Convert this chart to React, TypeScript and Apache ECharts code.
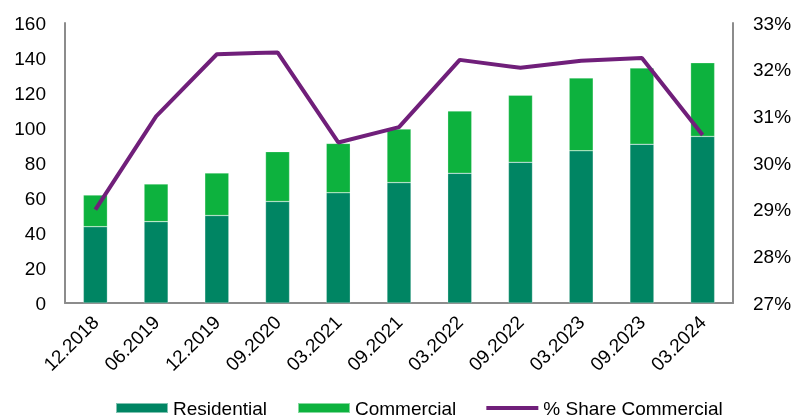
import React, { useEffect, useRef } from "react";
import * as echarts from "echarts";

const categories = ["12.2018", "06.2019", "12.2019", "09.2020", "03.2021", "09.2021", "03.2022", "09.2022", "03.2023", "09.2023", "03.2024"];
const residential = [43.6, 46.5, 50, 58, 63, 68.8, 74.1, 80.4, 87, 90.7, 95.2];
const commercial = [18.1, 21.5, 24.3, 28.5, 28.2, 30.6, 35.6, 38.3, 41.6, 43.6, 42.1];
const shareCommercial = [29.0, 31.0, 32.33, 32.37, 30.44, 30.77, 32.21, 32.04, 32.19, 32.25, 30.6];

const FONT = "'Liberation Sans', Arial, sans-serif";

export default function App() {
  const ref = useRef<HTMLDivElement>(null);
  useEffect(() => {
    if (!ref.current) return;
    const chart = echarts.init(ref.current, null, { renderer: "svg" });
    const axisLine = { show: true, lineStyle: { color: "#8c8c8c", width: 2 } };
    chart.setOption({
      animation: false,
      textStyle: { fontFamily: FONT },
      grid: { left: 65, right: 70, top: 23, bottom: 116, containLabel: false },
      legend: {
        left: 110,
        top: 393,
        padding: [5, 5, 5, 5],
        itemWidth: 52,
        itemHeight: 10,
        itemGap: 30,
        textStyle: { fontSize: 19, lineHeight: 20, color: "#000", fontFamily: FONT },
        data: [
          { name: "Residential", icon: "rect" },
          { name: "Commercial", icon: "rect" },
          { name: "% Share Commercial", icon: "path://M0,0 L54,0 L54,4 L0,4 Z" },
        ],
      },
      xAxis: {
        type: "category",
        data: categories,
        axisLine,
        axisTick: { show: false },
        axisLabel: { interval: 0, rotate: 45, margin: 16, fontSize: 19, color: "#000", fontFamily: FONT },
      },
      yAxis: [
        {
          type: "value",
          min: 0,
          max: 160,
          interval: 20,
          axisLine,
          axisTick: { show: false },
          splitLine: { show: false },
          axisLabel: { margin: 19, fontSize: 19, color: "#000", fontFamily: FONT },
        },
        {
          type: "value",
          min: 27,
          max: 33,
          interval: 1,
          position: "right",
          axisLine,
          axisTick: { show: false },
          splitLine: { show: false },
          axisLabel: { margin: 20, fontSize: 19, color: "#000", fontFamily: FONT, formatter: "{value}%" },
        },
      ],
      series: [
        {
          name: "Residential",
          type: "bar",
          stack: "total",
          barWidth: 24,
          data: residential,
          itemStyle: { color: "#008563", borderColor: "rgba(255,255,255,0.5)", borderWidth: 0.5 },
        },
        {
          name: "Commercial",
          type: "bar",
          stack: "total",
          barWidth: 24,
          data: commercial,
          itemStyle: { color: "#0db23e", borderColor: "rgba(255,255,255,0.5)", borderWidth: 0.5 },
        },
        {
          name: "% Share Commercial",
          type: "line",
          yAxisIndex: 1,
          data: shareCommercial,
          symbol: "none",
          lineStyle: { color: "#701f7a", width: 4 },
          itemStyle: { color: "#701f7a" },
        },
      ],
    });
    return () => chart.dispose();
  }, []);
  return <div ref={ref} style={{ position: "fixed", left: 0, top: 0, width: 803, height: 419 }} />;
}
